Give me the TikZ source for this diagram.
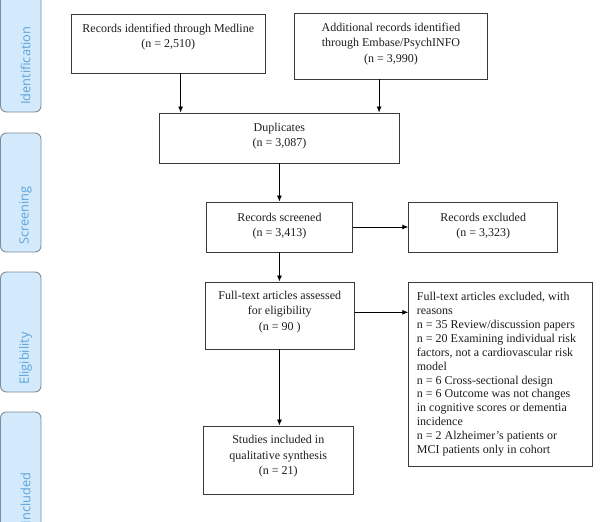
\documentclass[tikz,border=0pt]{standalone}
\usepackage{fontspec}
\setmainfont{Liberation Serif}
\newfontfamily\tabfont{Open Sans}
\usetikzlibrary{arrows.meta}
\definecolor{tabfill}{HTML}{D2EAFB}
\definecolor{tabline}{HTML}{7F8C99}
\definecolor{tabtext}{HTML}{5FA3DA}
\definecolor{boxline}{HTML}{3A3A3A}
\definecolor{txtcol}{HTML}{1E1E1E}
\tikzset{
  flowbox/.style={draw=boxline, line width=0.9pt, inner sep=0pt, fill=white},
  txt/.style={align=center, inner sep=0pt, text=txtcol, font=\fontsize{12}{15.3}\selectfont},
  listtxt/.style={align=left, inner sep=0pt, text=txtcol, font=\fontsize{12}{13.95}\selectfont},
  tab/.style={draw=tabline, fill=tabfill, line width=0.9pt, rounded corners=6pt},
  tablabel/.style={rotate=90, anchor=west, inner sep=0pt, text=tabtext, font=\tabfont\fontsize{12.8}{14}\selectfont},
  flow/.style={-{Latex[length=6pt,width=5pt]}, line width=0.8pt, draw=black}
}
\newcommand\mybox[5]{\node[flowbox, minimum width={#4pt-#2pt}, minimum height={#5pt-#3pt}] (#1) at ({(#2+#4)/2},{(#3+#5)/2}) {};}
\begin{document}
\begin{tikzpicture}[x=1pt,y=-1pt]
\useasboundingbox (0,0) rectangle (611,522);
% side tabs
\draw[tab] (0.5,-12) rectangle (41,112);
\draw[tab] (0.5,133) rectangle (41,252);
\draw[tab] (0.5,272) rectangle (41,392);
\draw[tab] (0.5,412) rectangle (41,545);
\node[tablabel] (l-id) at (25.5,105) {Identification};
\node[tablabel] (l-sc) at (25.5,245) {Screening};
\node[tablabel] (l-el) at (25.5,385) {Eligibility};
\node[tablabel] (l-in) at (25.5,524.5) {Included};
% boxes
\mybox{med}{71.4}{14}{265.2}{73}
\mybox{emb}{294.5}{13}{487.5}{79}
\mybox{dup}{159}{113}{399.8}{163}
\mybox{scr}{206.7}{202}{352.2}{252}
\mybox{exc}{408.7}{202}{557.7}{252}
\mybox{full}{205.5}{282}{354.1}{349}
\mybox{fex}{408.7}{282}{592}{466}
\mybox{inc}{203.6}{426}{353}{494}
% texts
\node[txt] (t-med) at (168.3,36.8) {Records identified through Medline\\(n = 2,510)};
\node[txt] (t-emb) at (391,44) {Additional records identified\\through Embase/PsychINFO\\(n = 3,990)};
\node[txt] (t-dup) at (279.4,136.3) {Duplicates\\(n = 3,087)};
\node[txt] (t-scr) at (279.4,225.8) {Records screened\\(n = 3,413)};
\node[txt] (t-exc) at (483.2,225.8) {Records excluded\\(n = 3,323)};
\node[txt] (t-full) at (279.8,312) {Full-text articles assessed\\for eligibility\\(n = 90 )};
\node[txt] (t-inc) at (278.3,456.4) {Studies included in\\qualitative synthesis\\(n = 21)};
\node[listtxt, anchor=west] (t-fex) at (416.7,374.2) {Full-text articles excluded, with\\reasons\\n = 35 Review/discussion papers\\n = 20 Examining individual risk\\factors, not a cardiovascular risk\\model\\n = 6 Cross-sectional design\\n = 6 Outcome was not changes\\in cognitive scores or dementia\\incidence\\n = 2 Alzheimer's patients or\\MCI patients only in cohort};
% connectors
\coordinate (a1) at (180.6,73);
\coordinate (a2) at (379.1,79);
\draw[flow] (med.south -| a1) -- (dup.north -| a1);
\draw[flow] (emb.south -| a2) -- (dup.north -| a2);
\draw[flow] (dup.south) -- (dup.south |- scr.north);
\draw[flow] (scr.east) -- (exc.west |- scr.east);
\draw[flow] (scr.south) -- (scr.south |- full.north);
\coordinate (a3) at (354.1,312.3);
\draw[flow] (full.east |- a3) -- (fex.west |- a3);
\draw[flow] (full.south -| scr.south) -- (scr.south |- inc.north);
\end{tikzpicture}
\end{document}
